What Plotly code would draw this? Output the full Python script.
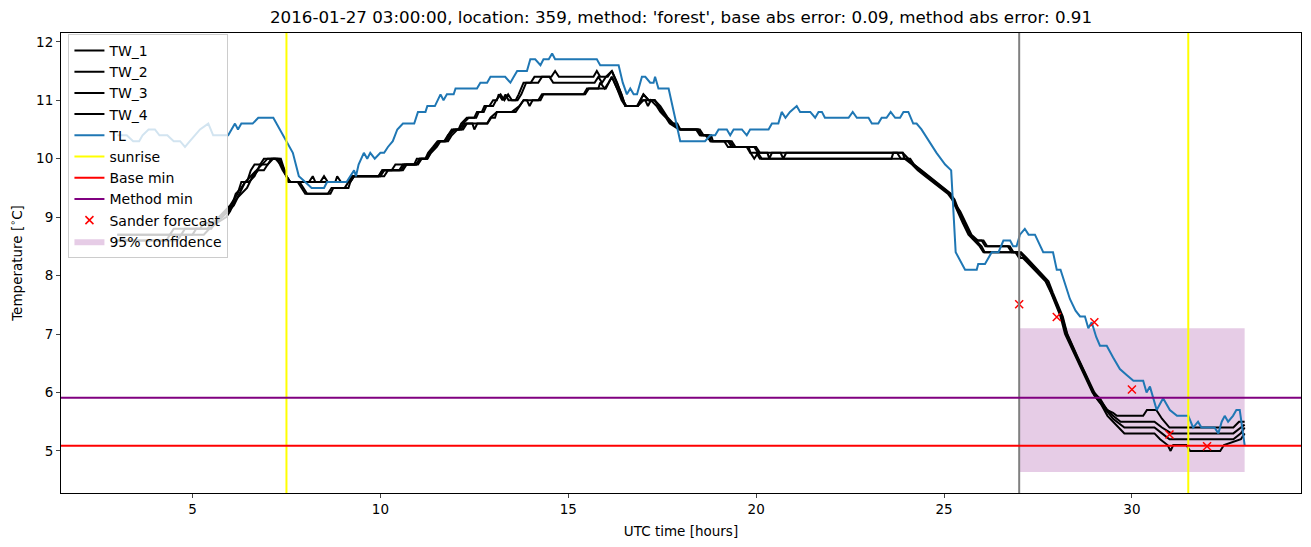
import plotly.graph_objects as go

# ---------------- data ----------------
tl_hours = [3.0, 3.25, 3.42, 3.58, 3.67, 3.83, 4.0, 4.12, 4.33, 4.5, 4.67, 4.8, 4.93, 5.06, 5.2, 5.42, 5.55, 5.95,
            6.04, 6.13, 6.21, 6.3, 6.6, 6.75, 7.15, 7.33, 7.5, 7.67, 7.75, 7.83, 8.0, 8.17, 8.5, 8.58, 9.1, 9.2, 9.3,
            9.35, 9.42, 9.56, 9.65, 9.73, 9.85, 10.0, 10.1, 10.2, 10.33, 10.45, 10.6, 10.9, 11.0, 11.2, 11.25, 11.45,
            11.6, 11.68, 11.77, 11.95, 12.0, 12.57, 12.66, 12.84, 12.93, 13.32, 13.46, 13.55, 13.64, 13.9, 13.99,
            14.12, 14.26, 14.34, 14.48, 14.57, 14.65, 15.76, 15.85, 16.34, 16.45, 16.56, 16.65, 16.74, 16.83, 16.96,
            17.05, 17.18, 17.27, 17.31, 17.4, 17.67, 17.98, 18.64, 18.78, 18.91, 19.0, 19.22, 19.31, 19.4, 19.62,
            19.75, 19.84, 20.33, 20.42, 20.59, 20.68, 20.78, 20.9, 21.08, 21.17, 21.44, 21.57, 21.66, 21.75, 21.83,
            22.46, 22.57, 22.68, 22.99, 23.08, 23.25, 23.34, 23.47, 23.58, 23.7, 23.83, 23.92, 24.05, 24.18, 24.27,
            24.4, 24.6, 24.8, 25.03, 25.19, 25.31, 25.56, 25.87, 25.91, 26.09, 26.27, 26.45, 26.58, 26.76, 26.84,
            26.93, 27.02, 27.15, 27.25, 27.42, 27.64, 27.9, 28.0, 28.1, 28.35, 28.5, 28.62, 28.75, 28.84, 28.93,
            29.05, 29.15, 29.33, 29.5, 29.68, 29.86, 30.04, 30.3, 30.39, 30.48, 30.66, 30.83, 31.01, 31.2, 31.5,
            31.63, 31.76, 31.85, 32.2, 32.3, 32.39, 32.47, 32.56, 32.69, 32.78, 32.87, 33.0]
tl_temp = [10.4, 10.4, 10.3, 10.3, 10.4, 10.5, 10.5, 10.4, 10.4, 10.3, 10.3, 10.2, 10.3, 10.4, 10.5, 10.6, 10.4, 10.4,
           10.5, 10.6, 10.5, 10.6, 10.6, 10.7, 10.7, 10.5, 10.3, 10.1, 9.9, 9.7, 9.6, 9.5, 9.5, 9.6, 9.6, 9.7, 9.8,
           9.7, 9.9, 10.1, 10.0, 10.1, 10.0, 10.1, 10.1, 10.2, 10.3, 10.5, 10.6, 10.6, 10.8, 10.8, 10.9, 10.9,
           11.1, 11.0, 11.1, 11.1, 11.2, 11.2, 11.3, 11.3, 11.4, 11.4, 11.3, 11.4, 11.5, 11.5, 11.7,
           11.7, 11.6, 11.7, 11.7, 11.8, 11.7, 11.7, 11.6, 11.6, 11.3, 11.1, 11.2, 11.1, 11.1, 11.4,
           11.4, 11.3, 11.3, 11.4, 11.2, 11.2, 10.3, 10.3, 10.4, 10.4, 10.5, 10.5, 10.4, 10.5, 10.5,
           10.4, 10.5, 10.5, 10.6, 10.6, 10.8, 10.7, 10.8, 10.9, 10.8, 10.8, 10.7, 10.8, 10.8, 10.7,
           10.7, 10.8, 10.7, 10.7, 10.6, 10.6, 10.7, 10.7, 10.8, 10.7, 10.7, 10.8, 10.8, 10.6, 10.6,
           10.5, 10.3, 10.1, 9.9, 9.8, 8.4, 8.1, 8.1, 8.2, 8.2, 8.4, 8.4, 8.6, 8.6, 8.5,
           8.5, 8.7, 8.8, 8.7, 8.7, 8.4, 8.4, 8.1, 8.1, 7.6, 7.4, 7.3, 7.3, 7.1, 7.2,
           6.95, 6.8, 6.8, 6.6, 6.4, 6.3, 6.2, 6.2, 6.0, 6.1, 5.7, 5.9, 5.7, 5.6, 5.6,
           5.4, 5.5, 5.4, 5.4, 5.3, 5.5, 5.6, 5.5, 5.6, 5.7, 5.7, 5.1]

tw1_hours = [3.0, 4.4, 4.5, 5.2, 5.3, 5.6, 5.7, 5.85, 6.0, 6.1, 6.2, 6.3, 6.45, 6.55, 6.65, 6.8, 6.9, 7.2, 7.35, 7.5,
             7.6, 8.1, 8.2, 8.27, 8.8, 8.85, 8.95, 9.2, 9.3, 9.95, 10.05, 10.3, 10.4, 10.9, 10.97, 11.2, 11.27, 11.4,
             11.52, 11.73, 11.8, 11.9, 12.08, 12.15, 12.3, 12.5, 12.57, 12.7, 12.77, 12.9, 13.0, 13.1, 13.15, 13.25,
             13.33, 13.41, 13.6, 13.68, 13.81, 14.0, 14.1, 14.55, 14.65, 14.75, 15.67, 15.76, 15.85, 16.05, 16.16,
             16.3, 16.42, 16.52, 16.83, 17.0, 17.14, 17.3, 17.4, 17.49, 17.62, 17.76, 17.9, 17.98, 18.45, 18.52,
             18.7, 18.78, 19.3, 19.4, 19.95, 20.05, 23.9, 24.05, 24.2, 24.35, 24.55, 24.75, 24.95, 25.15, 25.3,
             25.4, 25.55, 25.7, 25.85, 26.0, 26.1, 26.75, 26.85, 27.0, 27.15, 27.3, 27.45, 27.6, 27.73, 27.86, 28.0,
             28.13, 28.26, 28.35, 28.53, 28.75, 28.97, 29.15, 29.33, 29.5, 29.6, 30.3, 30.4, 30.65, 30.8, 31.0,
             32.7, 32.85, 33.0]
tw1_temp = [8.7, 8.7, 8.8, 8.8, 8.9, 8.9, 9.0, 9.1, 9.2, 9.3, 9.4, 9.6, 9.6, 9.8, 9.9, 9.9, 10.0, 10.0, 9.9, 9.7,
            9.6, 9.6, 9.7, 9.6, 9.6, 9.7, 9.6, 9.6, 9.7, 9.7, 9.8, 9.8, 9.9, 9.9, 10.0, 10.0, 10.1, 10.2,
            10.3, 10.3, 10.4, 10.5, 10.5, 10.6, 10.7, 10.7, 10.8, 10.8, 10.9, 10.9, 11.0, 11.0, 11.1, 11.0,
            11.1, 11.0, 11.0, 11.1, 11.3, 11.3, 11.4, 11.4, 11.5, 11.4, 11.4, 11.5, 11.4, 11.4, 11.5,
            11.3, 11.1, 10.9, 10.9, 11.1, 11.0, 11.0, 10.9, 10.8, 10.7, 10.6, 10.6, 10.5, 10.5, 10.4,
            10.4, 10.3, 10.3, 10.2, 10.2, 10.1, 10.1, 10.0, 9.9, 9.8, 9.7, 9.6, 9.5, 9.4, 9.2,
            9.1, 8.9, 8.7, 8.6, 8.6, 8.5, 8.5, 8.4, 8.4, 8.3, 8.2, 8.1, 8.0, 7.9, 7.7, 7.5,
            7.3, 7.0, 6.85, 6.6, 6.3, 6.0, 5.9, 5.7, 5.65, 5.6, 5.6, 5.7, 5.7, 5.55, 5.4,
            5.4, 5.5, 5.5]

tw2_hours = [3.0, 4.7, 4.8, 5.4, 5.5, 5.75, 5.9, 6.05, 6.15, 6.3, 6.4, 6.55, 6.7, 6.85, 7.0, 7.25, 7.4, 7.5, 7.6,
             8.4, 8.5, 8.6, 9.15, 9.25, 10.0, 10.1, 10.5, 10.6, 10.95, 11.05, 11.25, 11.33, 11.45, 11.58, 11.75,
             11.85, 11.95, 12.1, 12.2, 12.35, 12.55, 12.62, 12.75, 12.82, 13.0, 13.08, 13.2, 13.3, 13.4, 13.5,
             13.65, 13.75, 13.88, 14.2, 14.3, 14.5, 14.6, 15.7, 15.8, 15.9, 16.0, 16.16, 16.3, 16.42, 16.52,
             16.85, 17.0, 17.3, 17.45, 17.55, 17.65, 17.8, 18.0, 18.5, 18.6, 18.8, 18.85, 19.35, 19.45, 20.0,
             20.1, 20.3, 20.35, 20.42, 20.65, 20.72, 20.8, 23.75, 23.85, 24.1, 24.2, 24.4, 24.6, 24.8, 25.0,
             25.18, 25.32, 25.43, 25.58, 25.73, 25.9, 26.05, 26.15, 26.7, 26.8, 27.05, 27.2, 27.35, 27.5, 27.65,
             27.78, 27.9, 28.03, 28.16, 28.28, 28.38, 28.56, 28.78, 29.0, 29.18, 29.35, 29.5, 29.7, 30.6, 30.8,
             31.05, 31.2, 32.7, 32.9, 33.0]
tw2_temp = [8.7, 8.7, 8.8, 8.8, 8.9, 9.0, 9.1, 9.2, 9.4, 9.5, 9.6, 9.7, 9.8, 9.9, 10.0, 10.0, 9.8, 9.7, 9.6,
            9.6, 9.7, 9.6, 9.6, 9.7, 9.7, 9.8, 9.8, 9.9, 9.9, 10.0, 10.0, 10.1, 10.2, 10.3, 10.3,
            10.4, 10.5, 10.5, 10.6, 10.7, 10.7, 10.8, 10.8, 10.9, 10.9, 11.0, 11.1, 11.0, 11.1, 11.0,
            11.0, 11.1, 11.3, 11.3, 11.4, 11.4, 11.3, 11.3, 11.4, 11.3, 11.4, 11.5, 11.3, 11.1, 10.9,
            10.9, 11.0, 11.0, 10.9, 10.8, 10.7, 10.6, 10.5, 10.5, 10.4, 10.4, 10.3, 10.3, 10.2, 10.2,
            10.1, 10.1, 10.0, 10.1, 10.1, 10.0, 10.1, 10.1, 10.0, 10.0, 9.9, 9.8, 9.7, 9.6, 9.5,
            9.4, 9.2, 9.1, 8.9, 8.7, 8.6, 8.6, 8.5, 8.5, 8.4, 8.4, 8.3, 8.2, 8.1, 8.0,
            7.9, 7.7, 7.5, 7.3, 7.0, 6.85, 6.6, 6.3, 6.0, 5.85, 5.7, 5.6, 5.5, 5.5, 5.4,
            5.3, 5.3, 5.3, 5.4, 5.45]

tw3_hours = [3.0, 4.3, 4.4, 5.0, 5.1, 5.5, 5.6, 5.8, 5.95, 6.1, 6.25, 6.4, 6.5, 6.65, 6.8, 7.0, 7.1, 7.3, 7.45,
             7.55, 7.85, 7.95, 8.05, 8.6, 8.7, 9.05, 9.15, 9.25, 9.95, 10.05, 10.6, 10.7, 11.0, 11.1, 11.25, 11.35,
             11.5, 11.6, 11.8, 11.9, 12.05, 12.2, 12.3, 12.45, 12.5, 12.58, 12.85, 12.95, 13.05, 13.1, 13.6, 13.7,
             13.81, 13.9, 13.97, 14.05, 14.26, 14.34, 15.41, 15.5, 15.8, 15.85, 15.97, 16.07, 16.16, 16.3, 16.42,
             16.52, 16.85, 16.95, 17.05, 17.12, 17.2, 17.35, 17.45, 17.6, 17.7, 17.95, 18.45, 18.55, 18.65, 18.8,
             19.15, 19.25, 19.8, 19.85, 19.95, 20.05, 20.15, 23.6, 23.65, 23.9, 23.95, 24.15, 24.3, 24.5, 24.7,
             24.9, 25.1, 25.22, 25.35, 25.5, 25.65, 25.8, 25.95, 26.05, 26.9, 27.0, 27.1, 27.25, 27.4, 27.55, 27.7,
             27.85, 27.98, 28.1, 28.22, 28.33, 28.5, 28.72, 28.95, 29.12, 29.3, 29.5, 29.8, 30.6, 30.8, 31.0, 32.7,
             32.9, 33.0]
tw3_temp = [8.6, 8.6, 8.7, 8.7, 8.8, 8.8, 8.9, 9.0, 9.1, 9.2, 9.4, 9.6, 9.6, 9.7, 9.9, 9.9, 10.0, 10.0, 9.8,
            9.6, 9.6, 9.5, 9.4, 9.4, 9.5, 9.5, 9.6, 9.7, 9.7, 9.8, 9.8, 9.9, 9.9, 10.0, 10.0, 10.1,
            10.2, 10.3, 10.3, 10.4, 10.5, 10.5, 10.6, 10.6, 10.5, 10.6, 10.6, 10.7, 10.7, 10.8, 10.8, 10.9,
            11.0, 11.0, 10.9, 11.0, 11.0, 11.1, 11.1, 11.2, 11.2, 11.3, 11.2, 11.3, 11.4, 11.2, 11.0,
            10.9, 10.9, 11.0, 11.0, 10.9, 11.0, 10.9, 10.8, 10.7, 10.6, 10.5, 10.5, 10.4, 10.4, 10.3,
            10.3, 10.2, 10.2, 10.1, 10.0, 10.1, 10.0, 10.0, 10.1, 10.1, 10.0, 9.9, 9.8, 9.7, 9.6,
            9.5, 9.4, 9.3, 9.1, 8.9, 8.7, 8.6, 8.5, 8.4, 8.4, 8.3, 8.3, 8.2, 8.1, 8.0, 7.9,
            7.7, 7.5, 7.3, 7.0, 6.85, 6.6, 6.3, 6.0, 5.85, 5.7, 5.55, 5.4, 5.4, 5.3, 5.2, 5.2,
            5.3, 5.4]

tw4_hours = [3.0, 4.6, 4.7, 5.3, 5.45, 5.65, 5.9, 6.0, 6.15, 6.3, 6.45, 6.6, 6.75, 6.9, 7.0, 7.15, 7.35, 7.5, 7.6,
             7.8, 7.9, 8.0, 8.67, 8.75, 9.15, 9.2, 9.3, 10.1, 10.2, 10.55, 10.65, 10.95, 11.05, 11.2, 11.3, 11.45,
             11.55, 11.7, 11.8, 12.0, 12.15, 12.25, 12.84, 12.93, 13.1, 13.5, 13.7, 13.81, 14.2, 14.3, 15.45, 15.55,
             16.0, 16.16, 16.3, 16.45, 16.55, 16.85, 17.0, 17.14, 17.3, 17.4, 17.5, 17.62, 17.75, 17.98, 18.4, 18.5,
             18.75, 18.8, 19.25, 19.35, 19.75, 19.84, 20.0, 20.1, 24.0, 24.18, 24.38, 24.58, 24.78, 24.98, 25.16,
             25.28, 25.4, 25.55, 25.7, 25.85, 26.0, 26.08, 26.95, 27.05, 27.15, 27.28, 27.42, 27.57, 27.72, 27.88,
             28.01, 28.14, 28.27, 28.37, 28.55, 28.77, 29.0, 29.18, 29.35, 29.5, 29.8, 30.6, 30.75, 30.95, 31.03,
             31.1, 31.45, 31.55, 32.35, 32.45, 32.9, 33.0]
tw4_temp = [8.6, 8.6, 8.7, 8.7, 8.8, 8.9, 9.0, 9.1, 9.3, 9.4, 9.5, 9.7, 9.8, 9.8, 9.9, 10.0, 10.0, 9.7, 9.6,
            9.6, 9.5, 9.4, 9.4, 9.5, 9.5, 9.6, 9.7, 9.7, 9.8, 9.8, 9.9, 9.9, 10.0, 10.0, 10.1, 10.2,
            10.3, 10.3, 10.4, 10.5, 10.5, 10.6, 10.6, 10.7, 10.8, 10.8, 10.9, 11.0, 11.0, 11.1, 11.1, 11.2,
            11.2, 11.4, 11.2, 11.0, 10.9, 10.9, 11.1, 11.0, 11.0, 10.9, 10.8, 10.7, 10.6, 10.5, 10.5, 10.4,
            10.4, 10.3, 10.3, 10.2, 10.2, 10.1, 10.1, 10.0, 10.0, 9.9, 9.8, 9.7, 9.6, 9.5, 9.4,
            9.3, 9.1, 8.9, 8.7, 8.6, 8.5, 8.4, 8.4, 8.3, 8.3, 8.2, 8.1, 8.0, 7.9, 7.7,
            7.5, 7.3, 7.0, 6.85, 6.6, 6.3, 5.95, 5.8, 5.6, 5.5, 5.3, 5.3, 5.2, 5.1, 5.0,
            5.1, 5.1, 5.0, 5.0, 5.1, 5.2, 5.3]

sunrise_hours = [7.5, 31.5]
forecast_hour = 27.0
base_min = 5.09
method_min = 5.91
sander_hours = [27, 28, 29, 30, 31, 32]
sander_temp = [7.51, 7.29, 7.2, 6.05, 5.28, 5.08]
conf_hours = [27.0, 33.0]
conf_low = 4.64
conf_high = 7.1

title = "2016-01-27 03:00:00, location: 359, method: 'forest', base abs error: 0.09, method abs error: 0.91"

# ---------------- figure ----------------
fig = go.Figure()
FONT = "DejaVu Sans"

# confidence band
fig.add_trace(go.Scatter(
    x=[conf_hours[0], conf_hours[1], conf_hours[1], conf_hours[0], conf_hours[0]],
    y=[conf_low, conf_low, conf_high, conf_high, conf_low],
    fill="toself", fillcolor="rgba(128,0,128,0.2)", line=dict(width=0),
    mode="lines", name="95% confidence", legendrank=10, hoverinfo="skip"))

for i, (hx, ty) in enumerate([(tw1_hours, tw1_temp), (tw2_hours, tw2_temp),
                              (tw3_hours, tw3_temp), (tw4_hours, tw4_temp)]):
    fig.add_trace(go.Scatter(x=hx, y=ty, mode="lines", name=f"TW_{i+1}",
                             line=dict(color="black", width=2), legendrank=i + 1))

fig.add_trace(go.Scatter(x=tl_hours, y=tl_temp, mode="lines", name="TL",
                         line=dict(color="#1f77b4", width=2), legendrank=5))

# legend-only entries for reference lines
for nm, col, rk in [("sunrise", "yellow", 6), ("Base min", "red", 7), ("Method min", "purple", 8)]:
    fig.add_trace(go.Scatter(x=[None], y=[None], mode="lines", name=nm,
                             line=dict(color=col, width=2), legendrank=rk))

fig.add_trace(go.Scatter(x=sander_hours, y=sander_temp, mode="markers", name="Sander forecast",
                         marker=dict(symbol="x-thin", size=8, line=dict(color="red", width=1.5), color="red"),
                         legendrank=9))

shapes = []
for h in sunrise_hours:
    shapes.append(dict(type="line", xref="x", yref="paper", x0=h, x1=h, y0=0, y1=1,
                       line=dict(color="yellow", width=2), layer="above"))
shapes.append(dict(type="line", xref="x", yref="paper", x0=forecast_hour, x1=forecast_hour, y0=0, y1=1,
                   line=dict(color="grey", width=2), layer="above"))
shapes.append(dict(type="line", xref="paper", yref="y", x0=0, x1=1, y0=base_min, y1=base_min,
                   line=dict(color="red", width=2), layer="above"))
shapes.append(dict(type="line", xref="paper", yref="y", x0=0, x1=1, y0=method_min, y1=method_min,
                   line=dict(color="purple", width=2), layer="above"))

fig.update_layout(
    width=1311, height=547,
    margin=dict(l=61, r=10, t=33, b=54),
    paper_bgcolor="white", plot_bgcolor="white",
    font=dict(family=FONT, size=13.5, color="black"),
    title=dict(text=title, xref="paper", x=0.5, xanchor="center", y=1 - 17 / 547, yanchor="middle",
               font=dict(family=FONT, size=16.7, color="black")),
    shapes=shapes,
    showlegend=True,
    legend=dict(x=0.006, y=0.998, xanchor="left", yanchor="top",
                bgcolor="rgba(255,255,255,0.8)", bordercolor="#cccccc", borderwidth=1,
                font=dict(family=FONT, size=14), tracegroupgap=0, traceorder="normal"),
)
fig.update_xaxes(range=[1.5, 34.5], tickvals=[5, 10, 15, 20, 25, 30], ticks="outside", ticklen=4,
                 showline=True, linecolor="black", linewidth=1, mirror=True, showgrid=False, zeroline=False,
                 title=dict(text="UTC time [hours]", font=dict(size=13.5), standoff=10),
                 tickfont=dict(size=13.5))
fig.update_yaxes(range=[4.28, 12.15], tickvals=[5, 6, 7, 8, 9, 10, 11, 12], ticks="outside", ticklen=4,
                 showline=True, linecolor="black", linewidth=1, mirror=True, showgrid=False, zeroline=False,
                 title=dict(text="Temperature [<sup>∘</sup>C]", font=dict(size=13.5), standoff=10),
                 tickfont=dict(size=13.5))

fig.write_html("out.html")
